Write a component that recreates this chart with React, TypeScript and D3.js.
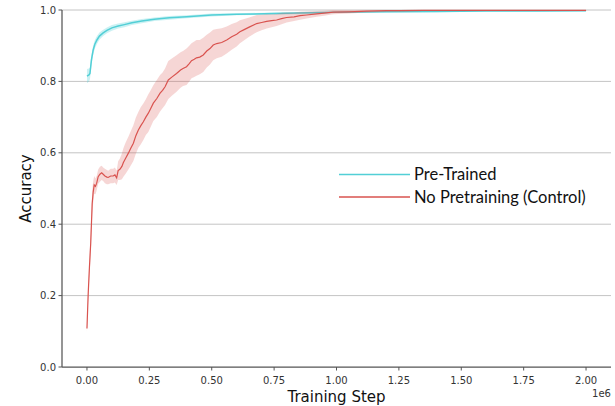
import React from "react";
import * as d3 from "d3";

// ---------- data (x in units of 1e6 training steps) ----------
const preSteps = [0, 0.008, 0.012, 0.018, 0.025, 0.032, 0.04, 0.05, 0.065, 0.08, 0.1, 0.125, 0.15, 0.18, 0.22, 0.27, 0.33, 0.4, 0.5, 0.6, 0.75, 0.9, 1.0, 1.2, 1.4, 1.6, 1.8, 2.0];
const preMean = [0.815, 0.818, 0.822, 0.86, 0.888, 0.905, 0.916, 0.927, 0.936, 0.943, 0.95, 0.955, 0.959, 0.964, 0.969, 0.974, 0.978, 0.981, 0.986, 0.988, 0.99, 0.992, 0.994, 0.995, 0.996, 0.997, 0.997, 0.998];
const preSpread = [0.02, 0.018, 0.016, 0.014, 0.013, 0.012, 0.011, 0.01, 0.009, 0.008, 0.008, 0.007, 0.007, 0.006, 0.006, 0.005, 0.005, 0.004, 0.004, 0.003, 0.003, 0.003, 0.002, 0.002, 0.002, 0.0015, 0.0015, 0.0015];

const ctlSteps = [0, 0.005, 0.01, 0.015, 0.021, 0.025, 0.029, 0.034, 0.039, 0.045, 0.052, 0.059, 0.065, 0.072, 0.08, 0.085, 0.095, 0.105, 0.112, 0.119, 0.125, 0.132, 0.14, 0.146, 0.155, 0.166, 0.175, 0.186, 0.196, 0.206, 0.216, 0.226, 0.236, 0.246, 0.256, 0.266, 0.28, 0.293, 0.303, 0.313, 0.326, 0.34, 0.359, 0.375, 0.385, 0.399, 0.41, 0.419, 0.43, 0.439, 0.452, 0.466, 0.48, 0.493, 0.506, 0.52, 0.54, 0.56, 0.58, 0.6, 0.613, 0.63, 0.65, 0.68, 0.7, 0.72, 0.74, 0.76, 0.78, 0.8, 0.83, 0.854, 0.88, 0.921, 0.95, 0.987, 1.05, 1.12, 1.2, 1.25, 1.35, 1.5, 1.65, 1.8, 2.0];
const ctlMean = [0.108, 0.206, 0.28, 0.346, 0.458, 0.49, 0.51, 0.506, 0.515, 0.533, 0.54, 0.544, 0.54, 0.535, 0.532, 0.531, 0.535, 0.535, 0.538, 0.53, 0.55, 0.554, 0.562, 0.573, 0.585, 0.599, 0.612, 0.627, 0.648, 0.664, 0.676, 0.687, 0.7, 0.711, 0.725, 0.739, 0.752, 0.767, 0.775, 0.785, 0.804, 0.812, 0.822, 0.832, 0.836, 0.841, 0.85, 0.858, 0.862, 0.866, 0.868, 0.874, 0.885, 0.892, 0.902, 0.906, 0.909, 0.916, 0.925, 0.932, 0.939, 0.945, 0.952, 0.962, 0.965, 0.968, 0.97, 0.972, 0.976, 0.979, 0.981, 0.984, 0.986, 0.989, 0.991, 0.994, 0.995, 0.997, 0.998, 0.998, 0.999, 0.999, 0.999, 0.999, 0.999];
const ctlSpread = [0.01, 0.018, 0.024, 0.03, 0.035, 0.03, 0.025, 0.022, 0.02, 0.02, 0.021, 0.02, 0.019, 0.02, 0.02, 0.019, 0.02, 0.02, 0.021, 0.02, 0.026, 0.03, 0.036, 0.04, 0.044, 0.046, 0.048, 0.05, 0.051, 0.05, 0.052, 0.051, 0.05, 0.053, 0.051, 0.05, 0.052, 0.051, 0.05, 0.051, 0.053, 0.052, 0.051, 0.05, 0.049, 0.051, 0.05, 0.049, 0.05, 0.05, 0.048, 0.048, 0.046, 0.045, 0.043, 0.041, 0.04, 0.038, 0.036, 0.034, 0.032, 0.03, 0.027, 0.024, 0.022, 0.02, 0.018, 0.017, 0.016, 0.014, 0.012, 0.011, 0.01, 0.008, 0.007, 0.006, 0.005, 0.004, 0.003, 0.002, 0.002, 0.002, 0.002, 0.002, 0.002];

const xTicks = [0, 0.25, 0.5, 0.75, 1.0, 1.25, 1.5, 1.75, 2.0];
const xTickLabels = ["0.00", "0.25", "0.50", "0.75", "1.00", "1.25", "1.50", "1.75", "2.00"];
const yTicks = [0, 0.2, 0.4, 0.6, 0.8, 1.0];
const yTickLabels = ["0.0", "0.2", "0.4", "0.6", "0.8", "1.0"];
const seriesNames = ["Pre-Trained", "No Pretraining (Control)"];

// ---------- layout ----------
const W = 615;
const H = 406;
const L = 62, R = 611, T = 10, B = 367;
const preColor = "#52cfd6";
const ctlColor = "#d9534f";
const DV = { fontFamily: "'DejaVu Sans'" };
const LEG = { fontFamily: "Lato" };

export default function App() {
  const x = d3.scaleLinear().domain([-0.1, 2.1]).range([L, R]);
  const y = d3.scaleLinear().domain([0, 1]).range([B, T]);

  const mk = (steps: number[], mean: number[], spread: number[]) => {
    const pts = steps.map((s, i) => ({ s, m: mean[i], d: spread[i] }));
    const area = d3
      .area<any>()
      .x((p) => x(p.s))
      .y0((p) => y(p.m - p.d))
      .y1((p) => y(Math.min(1.0, p.m + p.d)));
    const line = d3
      .line<any>()
      .x((p) => x(p.s))
      .y((p) => y(p.m));
    return { area: area(pts) || "", line: line(pts) || "" };
  };
  const pre = mk(preSteps, preMean, preSpread);
  const ctl = mk(ctlSteps, ctlMean, ctlSpread);

  return (
    <svg
      width={W}
      height={H}
      style={{ position: "absolute", left: 0, top: 0, background: "#fff" }}
    >
      <rect x={0} y={0} width={W} height={H} fill="#fff" />
      {/* grid */}
      {yTicks.filter((t) => t > 0).map((t) => (
        <line key={t} x1={L} x2={R} y1={y(t)} y2={y(t)} stroke="#c4c4c4" strokeWidth={1} />
      ))}

      {/* series */}
      <path d={pre.area} fill={preColor} fillOpacity={0.3} stroke="none" />
      <path d={pre.line} fill="none" stroke={preColor} strokeWidth={1.5} />
      <path d={ctl.area} fill={ctlColor} fillOpacity={0.24} stroke="none" />
      <path d={ctl.line} fill="none" stroke={ctlColor} strokeWidth={1.2} />

      {/* spines */}
      <line x1={L} x2={L} y1={T} y2={B} stroke="#555" strokeWidth={1.25} />
      <line x1={L} x2={R} y1={B} y2={B} stroke="#555" strokeWidth={1.25} />

      {/* y ticks */}
      {yTicks.map((t, i) => (
        <g key={t}>
          <line x1={L - 3.5} x2={L} y1={y(t)} y2={y(t)} stroke="#555" strokeWidth={1} />
          <text x={L - 6} y={y(t)} dy="0.35em" textAnchor="end" fontSize={10} fill="#333" style={DV}>
            {yTickLabels[i]}
          </text>
        </g>
      ))}
      {/* x ticks */}
      {xTicks.map((t, i) => (
        <g key={t}>
          <line x1={x(t)} x2={x(t)} y1={B} y2={B + 3.5} stroke="#555" strokeWidth={1} />
          <text x={x(t)} y={B + 16.5} textAnchor="middle" fontSize={10} fill="#333" style={DV}>
            {xTickLabels[i]}
          </text>
        </g>
      ))}
      <text x={R} y={397} textAnchor="end" fontSize={10} fill="#333" style={DV}>1e6</text>

      {/* axis labels */}
      <text x={(L + R) / 2} y={401.5} textAnchor="middle" fontSize={15} fill="#111" style={DV}>
        Training Step
      </text>
      <text
        transform={`translate(31,${(T + B) / 2}) rotate(-90)`}
        textAnchor="middle"
        fontSize={15}
        fill="#111"
        style={DV}
      >
        Accuracy
      </text>

      {/* legend */}
      <line x1={339} x2={410} y1={174.5} y2={174.5} stroke={preColor} strokeWidth={1.5} />
      <text x={414} y={180} fontSize={16.5} fill="#111" style={LEG}>
        {seriesNames[0]}
      </text>
      <line x1={339} x2={410} y1={197} y2={197} stroke={ctlColor} strokeWidth={1.5} />
      <text x={414} y={202.5} fontSize={16.5} fill="#111" style={LEG}>
        {seriesNames[1]}
      </text>
    </svg>
  );
}
